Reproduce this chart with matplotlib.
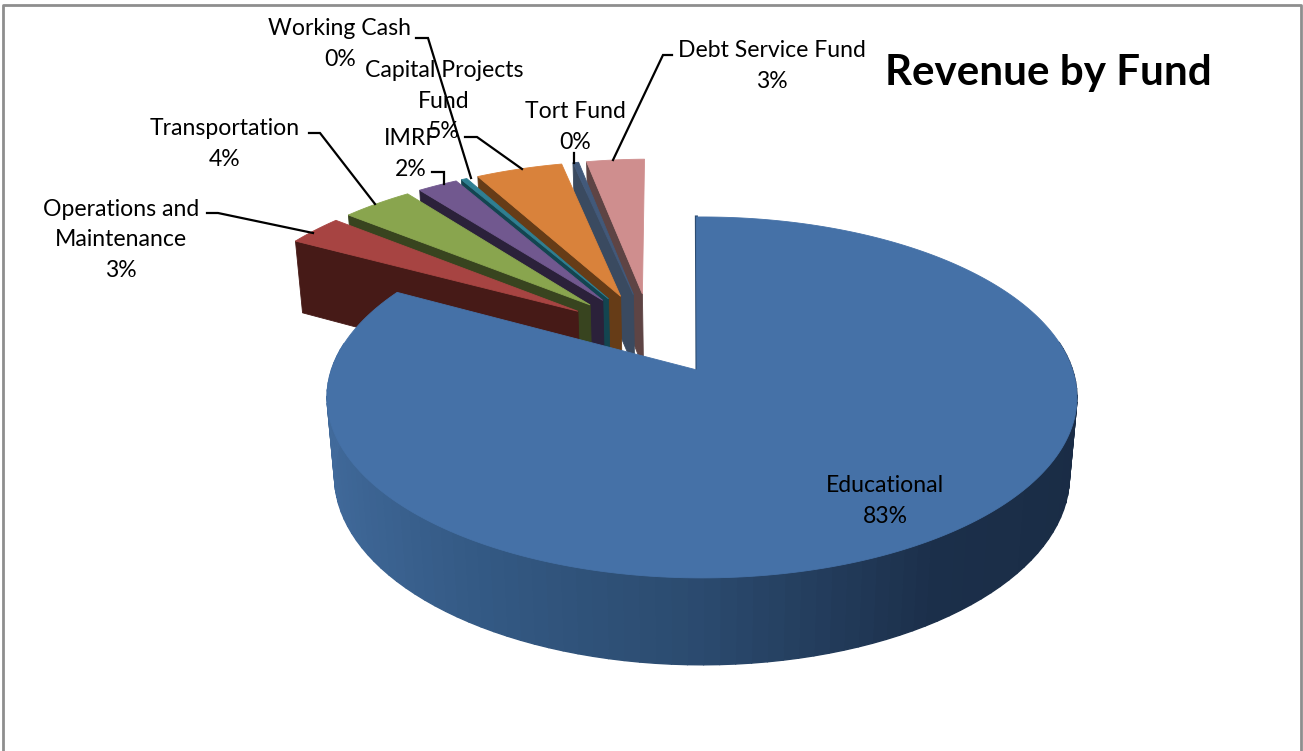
import numpy as np
import matplotlib
matplotlib.use("Agg")
import matplotlib.pyplot as plt
from matplotlib.collections import PolyCollection
from matplotlib.patches import Polygon
from matplotlib.colors import to_rgb

categories = ["Educational", "Operations and\nMaintenance", "Transportation", "IMRF",
              "Working Cash", "Capital Projects\nFund", "Tort Fund", "Debt Service Fund"]
shares = [83.1, 2.9, 3.7, 2.1, 0.3, 4.55, 0.3, 3.05]

top_colors = ["#4571A7", "#A74442", "#89A54E", "#71588F", "#2F7F92", "#D9823B", "#42597A", "#CF8E8E"]
face_colors = ["#2D4D72", "#461A17", "#38441F", "#2B213A", "#134550", "#663C17", "#3A4A60", "#5E4444"]
label_xy = [(885, 501), (121, 240), (225, 144), (411, 154), (340, 44), (444, 101), (575, 127), (772, 66)]
leaders = [None,
           [(207, 213), (218, 213), (313, 233)],
           [(309, 133), (320, 133), (375, 204)],
           [(432, 172), (444, 172), (444, 184)],
           [(416, 38), (428, 38), (471, 178)],
           [(465, 137), (477, 137), (522, 169)],
           [(574, 153), (574, 163)],
           [(672, 55), (663, 55), (613, 160)]]

# projection of the tilted disc to the page
CX, CY, BX, AY, CZ, K, M = 702, 370, 370.6, 176.3, 79.6, 0.152, 0.02
X_OFF = -0.0135        # sideways offset of the slice apexes
EXPLODE = 0.25
START_ANGLE = np.radians(-1.0)
side_stops = [-1.0, -0.55, 0.0, 0.55, 1.0]
side_cols = ["#416A9B", "#345A85", "#2B4A6E", "#1B2F4A", "#1A2C45"]


def project(x, y, z=0.0):
    w = 1 + K * y + M * z
    return CX + BX * x / w, CY + (-AY * y + CZ * z) / w


fig = plt.figure(figsize=(13.03, 7.51), dpi=100, facecolor="white")
ax = fig.add_axes([0, 0, 1, 1])
ax.set_xlim(0, 1303)
ax.set_ylim(751, 0)
ax.axis("off")

fr = np.array(shares) / sum(shares)
ends = np.cumsum(fr) * 2 * np.pi + START_ANGLE
starts = ends - fr * 2 * np.pi
mids = (starts + ends) / 2
ox, oy = EXPLODE * np.sin(mids), EXPLODE * np.cos(mids)
ox0, oy0 = ox[0], oy[0]


def pt(i, r, th, z=0.0):
    gx = X_OFF if (i or r == 0) else 0.0
    return project(r * np.sin(th) + ox[i] - ox0 + gx, r * np.cos(th) + oy[i] - oy0, z)


def wedge(i):
    th = np.linspace(starts[i], ends[i], max(6, int(fr[i] * 400)))
    return [pt(i, 0, 0)] + [pt(i, 1, t) for t in th]


# small slices, back to front
for i in range(len(shares) - 1, 0, -1):
    s = starts[i]
    ax.add_patch(Polygon([pt(i, 0, s), pt(i, 1, s), pt(i, 1, s, 1), pt(i, 0, s, 1)],
                         closed=True, fc=face_colors[i], ec=face_colors[i], lw=0.6, zorder=2))
    ax.add_patch(Polygon(wedge(i), closed=True, fc=top_colors[i], ec=top_colors[i], lw=0.6, zorder=2))

# main slice: shaded rim (front part only), inner edge, top
th = np.linspace(starts[0], ends[0], 140)
quads, cols = [], []
rgb = np.array([to_rgb(c) for c in side_cols])
for a, b in zip(th[:-1], th[1:]):
    if np.cos((a + b) / 2) > 0.15:
        continue
    quads.append([pt(0, 1, a), pt(0, 1, b), pt(0, 1, b, 1), pt(0, 1, a, 1)])
    sn = np.sin((a + b) / 2)
    cols.append([np.interp(sn, side_stops, rgb[:, c]) for c in range(3)])
ax.add_collection(PolyCollection(quads, facecolors=cols, edgecolors=cols, linewidths=1.0, zorder=3))
ax.plot(*zip(pt(0, 0, 0), pt(0, 1, starts[0])), color=face_colors[0], lw=2.2, zorder=3)
ax.add_patch(Polygon(wedge(0), closed=True, fc=top_colors[0], ec=top_colors[0], lw=0.6, zorder=4))

# labels
for name, val, (x, y), lead in zip(categories, shares, label_xy, leaders):
    ax.text(x, y, f"{name}\n{round(val)}%", ha="center", va="center", family="Lato",
            fontsize=16.6, linespacing=1.55, color="black", zorder=6)
    if lead:
        ax.plot(*zip(*lead), color="black", lw=1.6, solid_joinstyle="miter", zorder=7)

ax.text(1048, 73, "Revenue by Fund", ha="center", va="center", family="Lato",
        fontweight="bold", fontsize=30.3, color="black", zorder=6)

# chart frame
ax.plot([3, 3, 1301, 1301], [751, 5, 5, 751], color="#8E8E8E", lw=2, zorder=1)

fig.savefig("out.png", dpi=100)
